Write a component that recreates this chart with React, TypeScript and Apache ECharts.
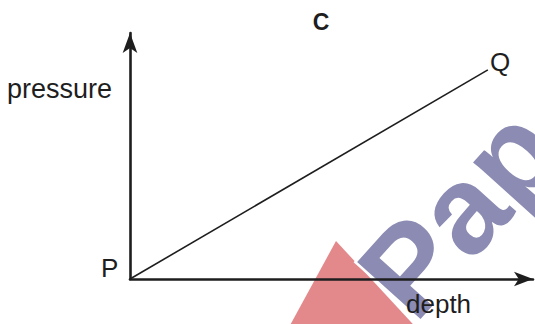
import React, { useEffect, useRef } from "react";
import * as echarts from "echarts";

const depth = [0, 88.8];
const pressure = [0, 85.0];
const axisMax = 100;
const labels = { title: "C", y: "pressure", x: "depth", start: "P", end: "Q" };
const watermark = "Pap";

export default function App() {
  const ref = useRef<HTMLDivElement>(null);
  useEffect(() => {
    if (!ref.current) return;
    const chart = echarts.init(ref.current, null, { renderer: "svg" });
    const font = "'Liberation Sans', Arial, sans-serif";
    const ink = "#1e1e1e";
    const rot = (48 * Math.PI) / 180;
    chart.setOption({
      animation: false,
      backgroundColor: "#ffffff",
      grid: { left: 130, right: 2, top: 33, bottom: 45 },
      xAxis: {
        type: "value",
        min: 0,
        max: axisMax,
        z: 10,
        axisLine: {
          show: true,
          symbol: ["none", "arrow"],
          symbolSize: [11, 19],
          lineStyle: { color: ink, width: 2.6 },
        },
        axisTick: { show: false },
        axisLabel: { show: false },
        splitLine: { show: false },
      },
      yAxis: {
        type: "value",
        min: 0,
        max: axisMax,
        z: 10,
        axisLine: {
          show: true,
          symbol: ["none", "arrow"],
          symbolSize: [11, 20],
          lineStyle: { color: ink, width: 2.6 },
        },
        axisTick: { show: false },
        axisLabel: { show: false },
        splitLine: { show: false },
      },
      series: [
        {
          type: "line",
          z: 10,
          data: depth.map((d, i) => [d, pressure[i]]),
          symbol: "none",
          lineStyle: { color: ink, width: 1.6 },
        },
      ],
      graphic: [
        {
          type: "polygon",
          z: -10,
          silent: true,
          shape: { points: [[336, 241], [270, 362], [448, 362]] },
          style: { fill: "#e3888b" },
        },
        {
          type: "text",
          z: -5,
          silent: true,
          x: 429,
          y: 338,
          rotation: rot,
          style: {
            text: watermark,
            font: `bold 124px ${font}`,
            fill: "#8b8bb3",
            stroke: "#ffffff",
            lineWidth: 5,
            textAlign: "left",
            textVerticalAlign: "bottom",
          },
        },
        {
          type: "text",
          z: 100,
          x: 321,
          y: 21.5,
          style: { text: labels.title, font: `bold 23px ${font}`, fill: ink, textAlign: "center", textVerticalAlign: "middle" },
        },
        {
          type: "text",
          z: 100,
          x: 7,
          y: 88.6,
          style: { text: labels.y, font: `27px ${font}`, fill: ink, textAlign: "left", textVerticalAlign: "middle" },
        },
        {
          type: "text",
          z: 100,
          x: 101,
          y: 268,
          style: { text: labels.start, font: `26px ${font}`, fill: ink, textAlign: "left", textVerticalAlign: "middle" },
        },
        {
          type: "text",
          z: 100,
          x: 490,
          y: 62,
          style: { text: labels.end, font: `26px ${font}`, fill: ink, textAlign: "left", textVerticalAlign: "middle" },
        },
        {
          type: "text",
          z: 100,
          x: 406,
          y: 304,
          style: { text: labels.x, font: `26px ${font}`, fill: ink, textAlign: "left", textVerticalAlign: "middle" },
        },
      ],
    });
    return () => chart.dispose();
  }, []);
  return <div ref={ref} style={{ position: "fixed", left: 0, top: 0, width: 535, height: 324 }} />;
}
